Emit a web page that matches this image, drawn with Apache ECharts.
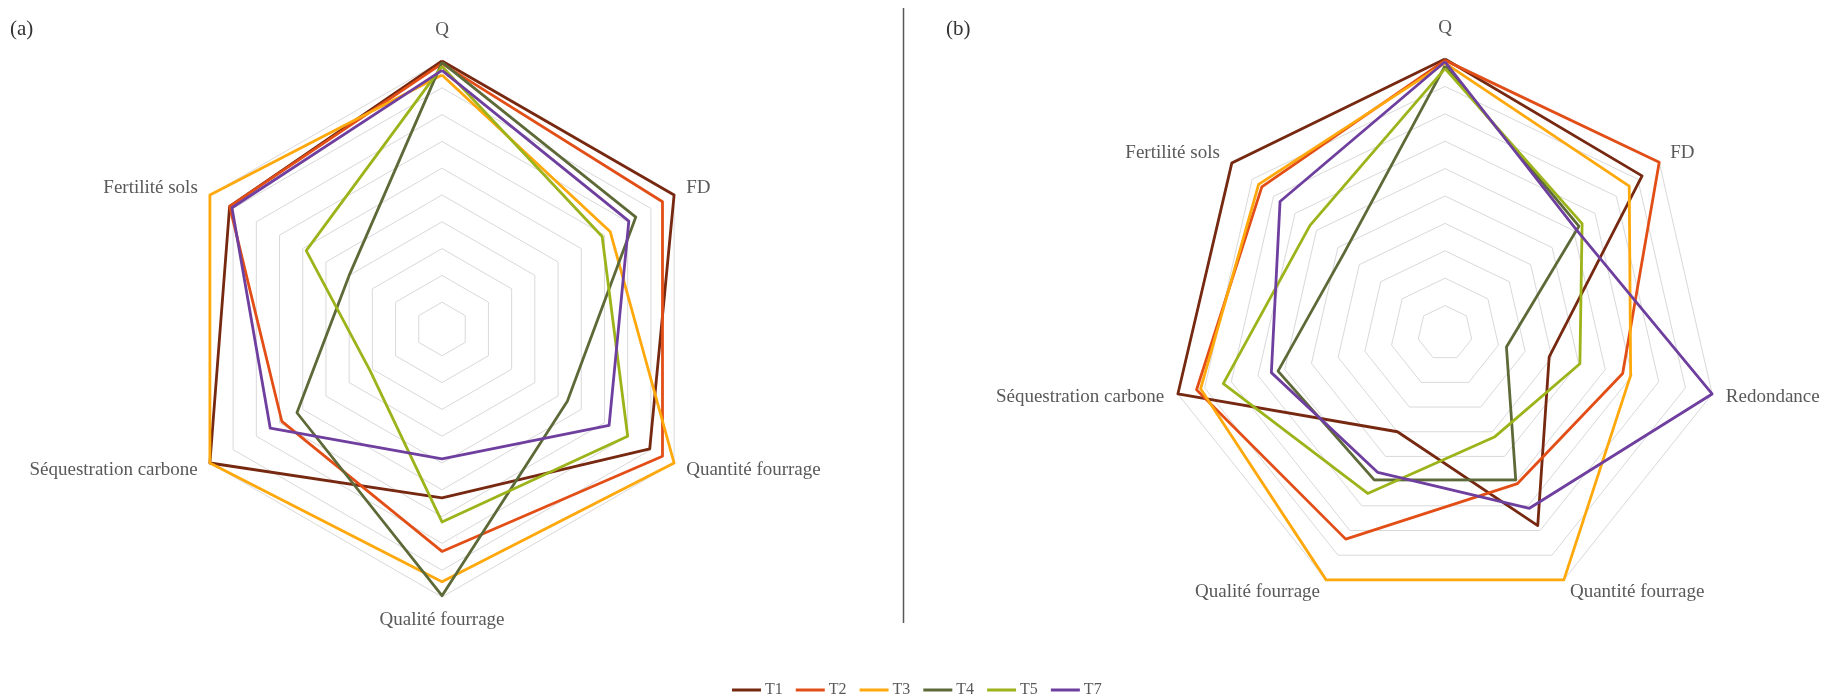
<!DOCTYPE html>
<html>
<head>
<meta charset="utf-8">
<script src="https://cdn.jsdelivr.net/npm/echarts@6/dist/echarts.min.js"></script>
<style>
html,body{margin:0;padding:0;background:#fff;}
#chart{width:1827px;height:696px;}
</style>
</head>
<body>
<div id="chart"></div>
<script>
// Indicators listed counter-clockwise starting from the top (ECharts radar order)
const axesA = ['Q', 'Fertilité sols', 'Séquestration carbone', 'Qualité fourrage', 'Quantité fourrage', 'FD'];
const axesB = ['Q', 'Fertilité sols', 'Séquestration carbone', 'Qualité fourrage', 'Quantité fourrage', 'Redondance', 'FD'];
const seriesNames = ['T1', 'T2', 'T3', 'T4', 'T5', 'T7'];
const seriesColors = ['#762810', '#E24E16', '#FFA80C', '#5D6A38', '#9DB31A', '#6E3F9E'];

// Panel (a) values, same order as axesA
const a_T1 = [10.0, 9.15, 10.0, 6.3, 8.95, 10.0];
const a_T2 = [9.9, 9.15, 6.9, 8.3, 9.5, 9.5];
const a_T3 = [9.48, 10.0, 10.0, 9.43, 10.0, 7.25];
const a_T4 = [9.95, 4.0, 6.25, 9.95, 5.4, 8.35];
const a_T5 = [9.8, 5.85, 3.1, 7.2, 8.0, 6.9];
const a_T7 = [9.65, 9.05, 7.4, 4.85, 7.2, 8.05];

// Panel (b) values, same order as axesB
const b_T1 = [10.0, 9.95, 10.0, 4.0, 7.8, 3.9, 9.2];
const b_T2 = [9.95, 8.55, 9.3, 8.35, 6.1, 6.65, 10.0];
const b_T3 = [9.85, 8.7, 9.15, 10.0, 10.0, 6.95, 8.6];
const b_T4 = [9.75, 4.7, 6.25, 5.95, 5.95, 2.3, 6.25];
const b_T5 = [9.65, 6.3, 8.3, 6.5, 4.2, 5.05, 6.4];
const b_T7 = [9.9, 7.7, 6.5, 5.65, 7.1, 10.0, 6.1];

const scaleMax = 10;
const splits = 10;

const dataA = [a_T1, a_T2, a_T3, a_T4, a_T5, a_T7];
const dataB = [b_T1, b_T2, b_T3, b_T4, b_T5, b_T7];

const font = '"Liberation Serif", "DejaVu Serif", serif';

function radarCfg(axes, center, radius) {
  return {
    center: center,
    radius: radius,
    startAngle: 90,
    shape: 'polygon',
    splitNumber: splits,
    nameGap: 14,
    indicator: axes.map(n => ({ name: n, min: 0, max: scaleMax })),
    axisName: {
      color: '#595959', fontSize: 19, fontFamily: font,
      formatter: function (name) { return name === 'Q' ? '{q|Q}' : name; },
      rich: { q: { color: '#595959', fontSize: 19, fontFamily: font, padding: [0, 0, 7, 0] } }
    },
    splitLine: { lineStyle: { color: '#D9D9D9', width: 1 } },
    splitArea: { show: false },
    axisLine: { show: false },
    axisTick: { show: false },
    axisLabel: { show: false }
  };
}

function seriesData(arr) {
  return arr.map((vals, i) => ({
    name: seriesNames[i],
    value: vals,
    itemStyle: { color: seriesColors[i] },
    lineStyle: { color: seriesColors[i], width: 2.8 }
  }));
}

const chart = echarts.init(document.getElementById('chart'), null, { renderer: 'canvas' });
chart.setOption({
  backgroundColor: '#ffffff',
  animation: false,
  legend: {
    data: seriesNames,
    left: 727,
    top: 677,
    icon: 'rect',
    itemWidth: 29,
    itemHeight: 3,
    itemGap: 13,
    textStyle: { color: '#595959', fontSize: 16, fontFamily: font, padding: [0, 0, 0, -1] }
  },
  radar: [
    radarCfg(axesA, [442, 329], 268),
    radarCfg(axesB, [1445, 333], 274)
  ],
  series: [
    { type: 'radar', radarIndex: 0, symbol: 'none', data: seriesData(dataA) },
    { type: 'radar', radarIndex: 1, symbol: 'none', data: seriesData(dataB) }
  ],
  graphic: [
    { type: 'line', shape: { x1: 903.5, y1: 8, x2: 903.5, y2: 623 }, style: { stroke: '#595959', lineWidth: 1.5 } },
    { type: 'text', left: 10, top: 19, style: { text: '(a)', fill: '#333333', font: '21px ' + font } },
    { type: 'text', left: 946, top: 19, style: { text: '(b)', fill: '#333333', font: '21px ' + font } }
  ]
});
</script>
</body>
</html>
